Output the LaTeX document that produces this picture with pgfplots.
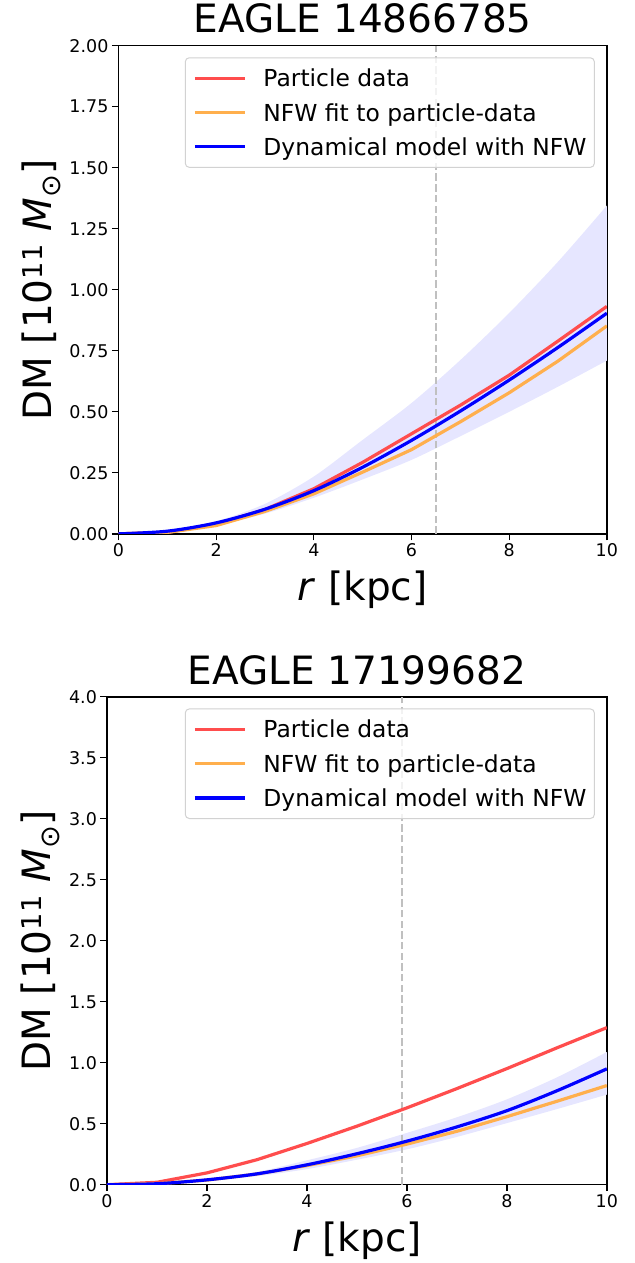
\documentclass[border=0pt]{standalone}
\usepackage{pgfplots}
\pgfplotsset{compat=1.18}
\usepgfplotslibrary{fillbetween}
\usepackage{fontspec}
\setmainfont{DejaVu Sans}
\definecolor{cred}{RGB}{255,77,77}
\definecolor{corange}{RGB}{255,175,77}
\definecolor{cband}{RGB}{230,230,255}
\definecolor{cdash}{RGB}{192,192,192}
\definecolor{cleg}{RGB}{210,210,210}
\pgfplotsset{
  myaxis/.style={
    scale only axis,
    xmin=0,xmax=10,
    xtick={0,2,4,6,8,10},
    tick align=outside,
    tick pos=left,
    major tick length=6.5pt,
    every tick/.style={black, line width=1.3pt},
    axis line style={line width=1.4pt},
    tick label style={font=\fontsize{17.5}{21}\selectfont},
    /pgf/number format/assume math mode=true,
    label style={font=\fontsize{39}{47}\selectfont},
    title style={font=\fontsize{39}{47}\selectfont, at={(axis description cs:0.5,1.022)}, anchor=base, yshift=-4pt},
    xlabel style={at={(axis description cs:0.5,-0.137)}, anchor=base},
    xlabel={\textit{r} [kpc]},
    ylabel={DM [10\textsuperscript{11} \textit{M}\textsubscript{⊙}]},
    legend cell align=left,
    legend style={at={(axis description cs:1,1)}, anchor=north east, xshift=-12pt, yshift=-11.6pt,
      draw=cleg, line width=1pt, rounded corners=4pt, fill=white, fill opacity=0.8, text opacity=1,
      font=\fontsize{23.4}{28}\selectfont, inner xsep=8pt, inner ysep=12pt, row sep=17.3pt, column sep=17pt,
      nodes={inner sep=0pt, text height=17pt, text depth=0pt}},
    legend image code/.code={\draw[#1] (0pt,0pt) -- (50pt,0pt);},
  },
  redl/.style={color=cred, line width=3.2pt},
  orl/.style={color=corange, line width=3.2pt},
  bll/.style={color=blue, line width=3.2pt, smooth},
  dashl/.style={color=cdash, line width=2pt, dash pattern=on 7.4pt off 3.3pt, forget plot},
  edge/.style={draw=none, smooth, forget plot},
}
\begin{document}
\begin{tikzpicture}
\path (0pt,0pt) rectangle (635pt,1263pt);
% ---------- top panel ----------
\begin{axis}[myaxis,
  at={(118.5pt,729pt)}, anchor=south west,
  width=488.5pt, height=488.3pt,
  ymin=0, ymax=2,
  ytick={0,0.25,0.5,0.75,1,1.25,1.5,1.75,2},
  yticklabel style={/pgf/number format/.cd, fixed, fixed zerofill, precision=2},
  ylabel style={at={(axis description cs:-0.137,0.5)}, anchor=base},
  title={EAGLE 14866785},
]
\addplot[edge, name path=upA] coordinates {(0,0) (1,0.013) (2,0.052) (3,0.123) (4,0.235) (5,0.385) (6,0.536) (7,0.712) (8,0.905) (9,1.115) (10,1.345)};
\addplot[edge, name path=loA] coordinates {(0,0) (1,0.008) (2,0.036) (3,0.083) (4,0.148) (5,0.223) (6,0.303) (7,0.40) (8,0.50) (9,0.603) (10,0.71)};
\addplot[cband, forget plot] fill between[of=upA and loA];
\addplot[dashl] coordinates {(6.51,0) (6.51,2)};
\addplot[redl] coordinates {(0,0) (1,0.006) (2,0.040) (3,0.100) (4,0.185) (5,0.293) (6,0.410) (7,0.527) (8,0.650) (9,0.790) (10,0.932)};
\addlegendentry{Particle data}
\addplot[orl] coordinates {(0,0) (1,0.006) (2,0.034) (3,0.092) (4,0.164) (5,0.253) (6,0.345) (7,0.459) (8,0.578) (9,0.708) (10,0.852)};
\addlegendentry{NFW fit to particle-data}
\addplot[bll] coordinates {(0,0) (1,0.011) (2,0.045) (3,0.101) (4,0.177) (5,0.273) (6,0.383) (7,0.503) (8,0.630) (9,0.764) (10,0.904)};
\addlegendentry{Dynamical model with NFW}
\end{axis}
% ---------- bottom panel ----------
\begin{axis}[myaxis,
  at={(107pt,78pt)}, anchor=south west,
  width=500pt, height=488pt,
  ymin=0, ymax=4,
  ytick={0,0.5,1,1.5,2,2.5,3,3.5,4},
  yticklabel style={/pgf/number format/.cd, fixed, fixed zerofill, precision=1},
  ylabel style={at={(axis description cs:-0.112,0.5)}, anchor=base},
  title={EAGLE 17199682},
]
\addplot[edge, name path=upB] coordinates {(0,0) (1,0.009) (2,0.046) (3,0.105) (4,0.200) (5,0.302) (6,0.425) (7,0.553) (8,0.700) (9,0.880) (10,1.088)};
\addplot[edge, name path=loB] coordinates {(0,0) (1,0.007) (2,0.032) (3,0.070) (4,0.128) (5,0.205) (6,0.290) (7,0.392) (8,0.505) (9,0.620) (10,0.739)};
\addplot[cband, forget plot] fill between[of=upB and loB];
\addplot[dashl] coordinates {(5.91,0) (5.91,4)};
\addplot[redl] coordinates {(0,0) (1,0.02) (2,0.097) (3,0.205) (4,0.338) (5,0.480) (6,0.630) (7,0.788) (8,0.952) (9,1.122) (10,1.288)};
\addlegendentry{Particle data}
\addplot[orl] coordinates {(0,0) (1,0.008) (2,0.038) (3,0.088) (4,0.157) (5,0.237) (6,0.333) (7,0.438) (8,0.558) (9,0.684) (10,0.813)};
\addlegendentry{NFW fit to particle-data}
\addplot[bll] coordinates {(0,0) (1,0.008) (2,0.040) (3,0.089) (4,0.163) (5,0.254) (6,0.357) (7,0.474) (8,0.607) (9,0.770) (10,0.950)};
\addlegendentry{Dynamical model with NFW}
\end{axis}
\end{tikzpicture}
\end{document}
